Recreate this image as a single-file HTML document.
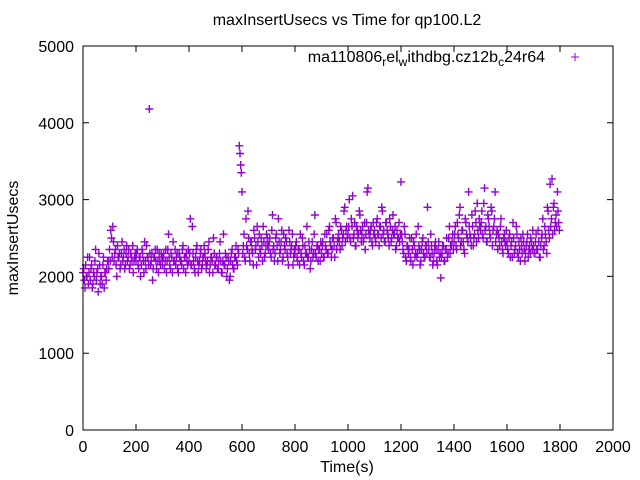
<!DOCTYPE html>
<html><head><meta charset="utf-8"><style>
body{margin:0;background:#fff}
svg{display:block;font-family:"Liberation Sans",sans-serif}
</style></head><body>
<svg id="chart" width="640" height="480" viewBox="0 0 640 480" xmlns="http://www.w3.org/2000/svg">
<rect width="640" height="480" fill="#fff"/>
<text x="347" y="25" text-anchor="middle" font-size="16">maxInsertUsecs vs Time for qp100.L2</text>
<text transform="translate(18,238) rotate(-90)" text-anchor="middle" font-size="16">maxInsertUsecs</text>
<text x="347" y="472" text-anchor="middle" font-size="16">Time(s)</text>
<g id="ticks"></g>
<g id="pts"></g>
<rect x="83" y="46" width="530" height="384" fill="none" stroke="#000" stroke-width="1"/>
<g>
<text x="545" y="62" text-anchor="end" font-size="16">ma110806<tspan font-size="12" dy="4">r</tspan><tspan dy="-4">el</tspan><tspan font-size="12" dy="4">w</tspan><tspan dy="-4">ithdbg.cz12b</tspan><tspan font-size="12" dy="4">c</tspan><tspan dy="-4">24r64</tspan></text>
<path d="M571 57h8M575 53v8" stroke="#9400d3" stroke-width="1"/>
</g>
</svg>
<script>
const xTicks=[0,200,400,600,800,1000,1200,1400,1600,1800,2000];
const yTicks=[0,1000,2000,3000,4000,5000];
const timeStep=5;
const valuesA=[2050,1950,2150,2000,1900,2250,2100,1850,2050,2200,1950,2100,2300,1900,2000,2150,1850,2050,2100,2200,
2350,2600,2250,2450,2300,2150,2400,2250,2100,2300,2200,2350,2150,2400,2250,2100,2300,2200,2050,2250,
2200,2350,2100,2250,2150,2300,2050,2200,2400,2250,4180,2150,2300,2100,2250,2200,2350,2050,2200,2300,
2150,2300,2200,2050,2350,2250,2100,2250,2450,2200,2150,2300,2050,2250,2200,2350,2100,2250,2300,2150,
2200,2750,2150,2300,2100,2250,2400,2050,2200,2350,2150,2250,2300,2100,2200,2450,2150,2250,2050,2300,
2150,2250,2100,2300,2200,2050,2550,2150,2250,2100,2200,2000,2300,2150,2100,2250,2200,2350,3700,3450,
3100,2400,2250,2750,2350,2500,2200,2450,2300,2600,2350,2150,2450,2550,2300,2400,2650,2250,2400,2500,
2350,2500,2250,2800,2400,2300,2550,2200,2450,2350,2600,2250,2400,2500,2300,2150,2450,2350,2550,2250,
2300,2450,2200,2350,2550,2250,2400,2150,2300,2650,2250,2350,2200,2450,2300,2800,2250,2400,2350,2200,
2300,2450,2250,2400,2550,2300,2650,2400,2350,2500,2250,2700,2450,2550,2350,2600,2500,2850,2450,2650,
2550,3000,2450,2650,2500,2700,2400,2600,2550,2800,2450,2650,2500,2350,2700,3150,2550,2600,2450,2700,
2600,2450,2750,2550,2650,2500,2850,2600,2450,2700,2550,2400,2650,2500,2800,2550,2350,2600,2500,2450,
3230,2450,2300,2550,2200,2400,2350,2250,2500,2150,2400,2300,2250,2650,2350,2200,2450,2300,2250,2400,
2900,2350,2250,2400,2150,2300,2450,2200,2350,2250,1980,2300,2400,2200,2350,2250,2500,2300,2400,2550,
2450,2650,2350,2550,2800,2400,2600,2450,2300,2700,2500,3100,2550,2400,2650,2500,2850,2450,2600,2750,
2600,2850,2500,3150,2650,2450,2750,2550,2900,2400,2650,3100,2550,2350,2500,2650,2450,2300,2550,2400,
2450,2300,2550,2400,2250,2500,2350,2650,2300,2450,2200,2400,2550,2350,2300,2450,2250,2400,2500,2350,
2400,2300,2550,2350,2450,2250,2500,2750,2400,2550,2300,2850,2500,2650,3270,2900,2600,2800,3100,2700];
const valuesB=[2100,1850,2000,2250,2050,1950,2150,1900,2000,2350,2050,1800,2150,2000,1900,2250,2050,1950,2200,2100,
2200,2500,2650,2200,2350,2000,2250,2300,2150,2450,2250,2100,2300,2200,2350,2150,2250,2400,2200,2300,
2300,2150,2250,2000,2350,2200,2450,2100,2250,2150,2300,2200,1950,2250,2350,2100,2200,2300,2150,2250,
2250,2100,2350,2200,2550,2150,2300,2050,2200,2350,2250,2100,2300,2200,2150,2400,2250,2050,2200,2350,
2300,2150,2650,2200,2050,2350,2200,2150,2300,2100,2250,2400,2200,2150,2350,2050,2250,2200,2500,2150,
2250,2100,2200,2450,2050,2200,2150,2300,2000,2250,1950,2200,2350,2100,2250,2400,2150,2300,3600,3350,
2300,2550,2200,2400,2850,2300,2450,2350,2150,2500,2400,2650,2250,2350,2500,2200,2450,2300,2550,2400,
2450,2300,2600,2350,2200,2500,2400,2750,2300,2450,2200,2550,2350,2450,2250,2600,2300,2400,2150,2350,
2400,2250,2350,2150,2300,2500,2200,2400,2300,2250,2450,2100,2350,2250,2550,2300,2400,2200,2350,2450,
2400,2250,2550,2350,2300,2600,2450,2250,2500,2400,2750,2350,2500,2450,2650,2400,2550,2900,2600,2500,
2650,2500,2750,3050,2550,2400,2650,2500,2850,2600,2550,2450,2700,2550,3100,2600,2500,2650,2400,2550,
2500,2700,2550,2400,2650,2900,2550,2450,2700,2600,2500,2750,2450,2600,2550,2650,2400,2500,2700,2550,
2550,2350,2650,2250,2400,2300,2500,2200,2350,2450,2250,2550,2300,2400,2150,2350,2500,2250,2400,2300,
2450,2250,2550,2300,2200,2400,2350,2150,2450,2300,2250,2400,2200,2350,2500,2300,2650,2400,2450,2350,
2550,2400,2700,2500,2900,2450,2600,2350,2750,2550,2450,2650,2500,2800,2400,2550,2700,2950,2500,2650,
2700,2550,2950,2600,2450,2800,2650,2500,2850,2600,2750,2450,2600,2550,2400,2750,2350,2500,2450,2600,
2350,2500,2250,2450,2700,2300,2400,2550,2250,2350,2500,2300,2450,2200,2400,2550,2350,2300,2450,2600,
2300,2450,2350,2600,2250,2400,2550,2350,2650,2450,2900,2600,3200,2750,2550,2950,2700,2650,2850,2600];
const NS="http://www.w3.org/2000/svg";
const X0=83,X1=613,Y0=430,Y1=46;
function xs(t){return X0+(t-0)/(2000-0)*(X1-X0);}
function ys(v){return Y0-(v-0)/(5000-0)*(Y0-Y1);}
const tg=document.getElementById('ticks');
let d='';
xTicks.forEach(t=>{const x=xs(t);d+=`M${x} ${Y0}v-6M${x} ${Y1}v6`;
 const tx=document.createElementNS(NS,'text');
 
 
 tx.setAttribute('x',x);tx.setAttribute('y',452);tx.setAttribute('text-anchor','middle');tx.setAttribute('font-size','16');
 tx.textContent=t;tg.appendChild(tx);});
yTicks.forEach(v=>{const y=ys(v);d+=`M${X0} ${y}h6M${X1} ${y}h-6`;
 const tx=document.createElementNS(NS,'text');
 
 
 tx.setAttribute('x',74);tx.setAttribute('y',y+6);tx.setAttribute('text-anchor','end');tx.setAttribute('font-size','16');
 tx.textContent=v;tg.appendChild(tx);});
const tp=document.createElementNS(NS,'path');


tp.setAttribute('d',d);tp.setAttribute('stroke','#000');tp.setAttribute('fill','none');tg.appendChild(tp);
const pg=document.getElementById('pts');
function addPts(vals,off,name){let p='';vals.forEach((v,i)=>{const x=xs(i*timeStep+off),y=ys(v);p+=`M${(x-4).toFixed(1)} ${y.toFixed(1)}h8M${x.toFixed(1)} ${(y-4).toFixed(1)}v8`;});
 const e=document.createElementNS(NS,'path');
 
 
 e.setAttribute('d',p);e.setAttribute('stroke','#9400d3');e.setAttribute('stroke-width','1.4');e.setAttribute('fill','none');pg.appendChild(e);}
addPts(valuesA,0,'series-a-points');
addPts(valuesB,2.5,'series-b-points');
</script>
</body></html>
